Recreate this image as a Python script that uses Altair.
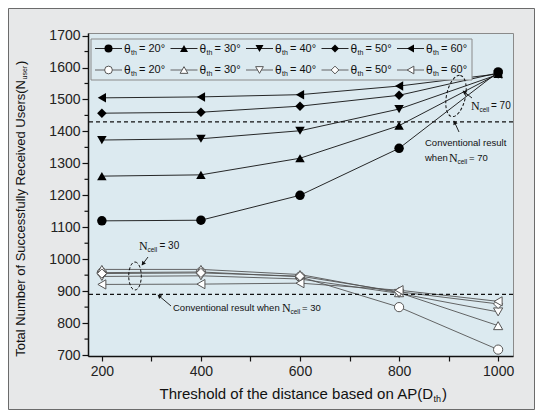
import math
import altair as alt
import pandas as pd

# ---------------- data ----------------
D = [200, 400, 600, 800, 1000]
thetas = ["20", "30", "40", "50", "60"]
# N_cell = 70 (filled markers)
n70_th20 = [1120, 1122, 1200, 1347, 1586]
n70_th30 = [1260, 1264, 1316, 1418, 1580]
n70_th40 = [1373, 1377, 1402, 1470, 1578]
n70_th50 = [1457, 1460, 1479, 1513, 1583]
n70_th60 = [1505, 1508, 1515, 1542, 1580]
# N_cell = 30 (open markers)
n30_th20 = [958, 960, 945, 850, 717]
n30_th30 = [968, 968, 952, 895, 792]
n30_th40 = [946, 948, 938, 893, 835]
n30_th50 = [955, 957, 947, 898, 860]
n30_th60 = [921, 922, 925, 903, 868]
conv70 = 1430
conv30 = 890
y_major = [700, 800, 900, 1000, 1100, 1200, 1300, 1400, 1500, 1600, 1700]
y_minor = [750, 850, 950, 1050, 1150, 1250, 1350, 1450, 1550, 1650]
x_ticks = [200, 300, 400, 500, 600, 700, 800, 900, 1000]

shapes = ["circle", "triangle-up", "triangle-down", "diamond", "triangle-left"]

rows = []
for grp, series in [("70", [n70_th20, n70_th30, n70_th40, n70_th50, n70_th60]),
                    ("30", [n30_th20, n30_th30, n30_th40, n30_th50, n30_th60])]:
    for th, vals in zip(thetas, series):
        for d, v in zip(D, vals):
            rows.append({"D": d, "N": v, "theta": th, "grp": grp, "key": grp + "_" + th})
df = pd.DataFrame(rows)

# ---------------- layout ----------------
OX, OY = 88, 33          # plot origin in page pixels
W, H = 425, 323
FONT = "Liberation Sans"
SERIF = "Liberation Serif"

def px(x):
    return x - OX

def py(y):
    return y - OY

one = alt.Data(values=[{"k": 0}])

xs = alt.Scale(domain=[172, 1030], nice=False, zero=False)
ys = alt.Scale(domain=[697, 1708], nice=False, zero=False)

xaxis = alt.Axis(values=x_ticks,
                 labelExpr="datum.value % 200 === 0 ? datum.label : ''",
                 format="d", grid=False, tickSize=5, labelPadding=3, labelOverlap=False)
yaxis = alt.Axis(values=y_major, format="d", grid=False, labelOverlap=False,
                 tickSize=6, labelPadding=2)

base = alt.Chart(df).encode(
    x=alt.X("D:Q", scale=xs, axis=xaxis, title=None),
    y=alt.Y("N:Q", scale=ys, axis=yaxis, title=None),
)

shape_enc = alt.Shape("theta:N", scale=alt.Scale(domain=thetas, range=shapes), legend=None)

lines70 = base.transform_filter("datum.grp === '70'").mark_line(color="#111", strokeWidth=0.9).encode(detail="key:N")
lines30 = base.transform_filter("datum.grp === '30'").mark_line(color="#555", strokeWidth=0.9).encode(detail="key:N")
pts30 = base.transform_filter("datum.grp === '30'").mark_point(
    filled=True, fill="white", stroke="#555", strokeWidth=1, size=85, opacity=1
).encode(shape=shape_enc)
pts70 = base.transform_filter("datum.grp === '70'").mark_point(
    filled=True, color="black", size=90, opacity=1
).encode(shape=shape_enc)

dash70 = alt.Chart(pd.DataFrame({"N": [conv70]})).mark_rule(
    strokeDash=[4, 3], color="#111", strokeWidth=1.2).encode(
    y=alt.Y("N:Q", scale=ys, axis=yaxis, title=None))
dash30 = alt.Chart(pd.DataFrame({"N": [conv30]})).mark_rule(
    strokeDash=[4, 3], color="#111", strokeWidth=1.2).encode(
    y=alt.Y("N:Q", scale=ys, axis=yaxis, title=None))

minor = alt.Chart(pd.DataFrame({"N": y_minor})).mark_rule(
    color="#111", strokeWidth=1.2, clip=False).encode(
    y=alt.Y("N:Q", scale=ys, axis=yaxis, title=None), x=alt.value(-3.5), x2=alt.value(0))

layers = []

def txt(s, x, y, size=11, font=FONT, align="left", angle=0, baseline="middle", color="#111"):
    kw = dict(text=s, fontSize=size, font=font, align=align, baseline=baseline, color=color)
    if angle:
        kw["angle"] = angle
    layers.append(alt.Chart(one).mark_text(**kw).encode(x=alt.value(px(x)), y=alt.value(py(y))))

def seg(x1, y1, x2, y2, color="#111", width=1.0, dash=None):
    kw = dict(color=color, strokeWidth=width)
    if dash:
        kw["strokeDash"] = dash
    layers.append(alt.Chart(one).mark_rule(**kw).encode(
        x=alt.value(px(x1)), y=alt.value(py(y1)), x2=alt.value(px(x2)), y2=alt.value(py(y2))))

def arrow(x1, y1, x2, y2):
    seg(x1, y1, x2, y2, width=0.9)
    dx, dy = x2 - x1, y2 - y1
    ang = math.degrees(math.atan2(dx, -dy)) % 360
    L = math.hypot(dx, dy)
    cx, cy = x2 - dx / L * 2.2, y2 - dy / L * 2.2
    layers.append(alt.Chart(one).mark_point(shape="triangle", filled=True, color="#111", size=22,
                                            angle=ang, opacity=1).encode(
        x=alt.value(px(cx)), y=alt.value(py(cy))))

ELL = "M0,-1A0.45,1,0,1,1,0,1A0.45,1,0,1,1,0,-1Z"

def ellipse(cx, cy, ry, tilt=0):
    kw = dict(shape=ELL, filled=False, stroke="#111", strokeWidth=1, strokeDash=[3, 2],
              size=(2 * ry) ** 2, opacity=1)
    if tilt:
        kw["angle"] = tilt
    layers.append(alt.Chart(one).mark_point(**kw).encode(x=alt.value(px(cx)), y=alt.value(py(cy))))

# outer frame
layers.append(alt.Chart(one).mark_rect(fill="transparent", stroke="#6b6b6b", strokeWidth=1).encode(
    x=alt.value(px(8.5)), x2=alt.value(px(534.5)), y=alt.value(py(8.5)), y2=alt.value(py(409.5))))

# legend box
layers.append(alt.Chart(one).mark_rect(fill="#dceaf0", stroke="#8a8a8a", strokeWidth=1).encode(
    x=alt.value(px(91)), x2=alt.value(px(472)), y=alt.value(py(39)), y2=alt.value(py(80))))

leg_x = [95, 170.5, 246, 321.5, 397]
for r, (ry_, filled) in enumerate([(48.5, True), (70, False)]):
    for i, th in enumerate(thetas):
        x0 = leg_x[i]
        seg(x0, ry_, x0 + 27, ry_, color="#111" if filled else "#555", width=0.9)
        if filled:
            pk = dict(filled=True, color="black", size=65, opacity=1)
        else:
            pk = dict(filled=True, fill="white", stroke="#555", strokeWidth=1, size=60, opacity=1)
        layers.append(alt.Chart(one).mark_point(shape=shapes[i], **pk).encode(
            x=alt.value(px(x0 + 13.5)), y=alt.value(py(ry_))))
        txt("θ", x0 + 29, ry_, size=12)
        txt("th", x0 + 36, ry_ + 4, size=7)
        txt("= " + th + "°", x0 + 44, ry_, size=11)

# annotations
txt("N", 471, 106, size=12, font=SERIF)
txt("cell", 479.5, 110, size=6.5)
txt("= 70", 491, 106, size=10)
txt("Conventional result", 425, 143, size=9.5)
txt("when", 425, 158, size=9.5)
txt("N", 449, 158, size=12, font=SERIF)
txt("cell", 457.5, 162, size=6.5)
txt("= 70", 469, 158, size=9.5)

txt("N", 139, 246, size=12, font=SERIF)
txt("cell", 147.5, 250, size=6.5)
txt("= 30", 159.5, 246, size=10)
txt("Conventional result when", 173, 308, size=9.5)
txt("N", 282, 308, size=12, font=SERIF)
txt("cell", 290.5, 312, size=6.5)
txt("= 30", 302, 308, size=9.5)

ellipse(456, 96, 21, tilt=12)
ellipse(135, 276, 14)
arrow(472, 98, 463, 91)
arrow(459, 132, 454, 121)
arrow(148, 257, 142, 265)
arrow(171, 306, 158, 295)

# axis titles
txt("Threshold of the distance based on AP(D", 433, 394, size=15, align="right")
txt("th", 433.5, 399, size=9)
txt(")", 442, 394, size=15)

txt("Total Number of Successfully Received Users(N", 21, 80, size=13, align="right", angle=270)
txt("user", 25, 79.5, size=7, align="left", angle=270)
txt(")", 21, 65, size=13, align="left", angle=270)

chart = alt.layer(lines30, lines70, dash70, dash30, pts30, pts70, minor, *layers).properties(
    width=W, height=H,
    autosize=alt.AutoSizeParams(type="none"),
    padding={"left": 80, "top": 25, "right": 22, "bottom": 54},
    background="#e7e8e9",
).configure_view(
    fill="#dceaf0", stroke="#8a8a8a", strokeWidth=1
).configure_axis(
    domainColor="#111", domainWidth=1.5, tickColor="#111", tickWidth=1.2,
    labelFont=FONT, labelFontSize=14, labelColor="#222",
)

chart.save("out.html", embed_options={"renderer": "svg", "actions": False})
